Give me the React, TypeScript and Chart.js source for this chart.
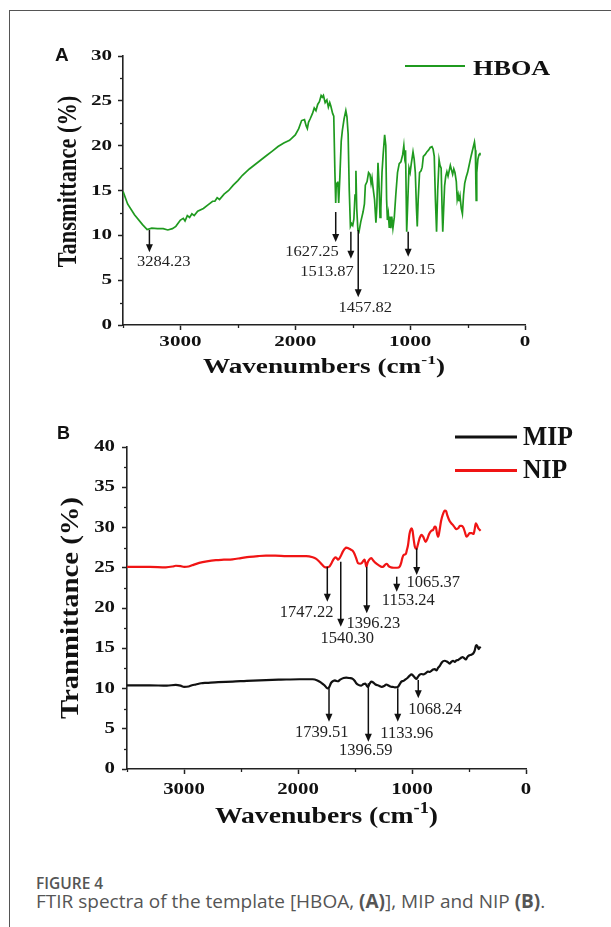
import React, { useEffect, useRef } from "react";
import { Chart, registerables } from "chart.js";
Chart.register(...registerables);

// ---------- Panel A : HBOA ----------
const HBOA_WN = [3500, 3460, 3400, 3330, 3290, 3250, 3200, 3150, 3110, 3070, 3040, 3000, 2975, 2960, 2940, 2920, 2900, 2880, 2850, 2800, 2760, 2720, 2700, 2680, 2660, 2620, 2580, 2540, 2500, 2460, 2400, 2350, 2300, 2250, 2200, 2150, 2100, 2050, 2000, 1970, 1945, 1920, 1905, 1895, 1885, 1870, 1850, 1835, 1820, 1805, 1790, 1775, 1765, 1755, 1740, 1725, 1712, 1700, 1690, 1675, 1665, 1655, 1648, 1643, 1637, 1630, 1622, 1612, 1600, 1590, 1575, 1560, 1550, 1540, 1530, 1520, 1510, 1500, 1490, 1480, 1472, 1465, 1455, 1445, 1430, 1410, 1398, 1390, 1375, 1362, 1350, 1340, 1332, 1322, 1310, 1298, 1290, 1280, 1272, 1262, 1255, 1245, 1235, 1222, 1212, 1205, 1198, 1190, 1182, 1176, 1168, 1160, 1150, 1138, 1125, 1110, 1095, 1080, 1065, 1055, 1048, 1040, 1030, 1020, 1010, 1000, 990, 975, 965, 955, 945, 938, 930, 918, 905, 895, 885, 870, 855, 840, 825, 810, 800, 790, 780, 770, 760, 748, 740, 730, 722, 716, 708, 700, 690, 680, 670, 660, 650, 640, 630, 620, 610, 598, 590, 582, 575, 566, 555, 545, 535, 525, 512, 500, 485, 470, 455, 440, 432, 428, 425, 420, 410, 400, 392];
const HBOA_T = [14.9, 13.5, 12.3, 11.2, 10.65, 10.8, 10.75, 10.75, 10.6, 10.75, 11.0, 11.7, 11.9, 11.6, 12.2, 12.0, 12.4, 12.2, 12.7, 13.0, 13.4, 13.8, 13.8, 14.2, 14.0, 14.6, 15.0, 15.6, 16.1, 16.7, 17.4, 17.9, 18.4, 18.9, 19.4, 19.9, 20.3, 20.6, 21.2, 21.9, 22.8, 22.9, 22.2, 21.9, 22.6, 23.0, 23.6, 24.2, 23.9, 24.6, 24.9, 25.6, 25.4, 25.6, 24.8, 25.1, 24.3, 24.8, 24.4, 23.6, 23.3, 17.0, 13.6, 15.9, 15.4, 16.0, 13.6, 16.5, 20.5, 21.7, 23.0, 23.9, 23.2, 21.3, 15.0, 11.0, 11.3, 11.1, 11.8, 14.5, 17.2, 13.0, 10.6, 10.4, 11.5, 12.6, 13.5, 15.6, 16.0, 17.0, 16.8, 15.8, 16.4, 15.2, 14.0, 11.4, 13.2, 18.1, 16.0, 12.0, 13.0, 17.0, 19.0, 21.2, 20.0, 14.0, 11.7, 12.4, 10.9, 12.1, 10.8, 12.1, 10.8, 12.0, 14.5, 17.0, 18.0, 18.2, 19.0, 20.0, 18.8, 19.5, 10.4, 14.0, 17.5, 17.0, 18.0, 19.3, 18.5, 17.0, 13.0, 11.0, 14.0, 17.0, 17.2, 17.6, 18.8, 19.0, 19.3, 19.5, 19.8, 19.9, 19.6, 18.8, 14.0, 10.4, 15.0, 18.4, 17.8, 17.5, 13.0, 10.4, 13.0, 15.5, 16.6, 17.1, 16.6, 17.2, 17.8, 17.3, 16.8, 17.4, 17.0, 16.0, 14.0, 14.5, 13.8, 14.4, 13.0, 12.4, 14.5, 15.8, 16.5, 17.0, 17.9, 18.8, 19.6, 20.4, 19.5, 16.0, 13.9, 17.0, 18.5, 19.0, 19.2];

const A_PEAK_LABELS = ["3284.23", "1627.25", "1513.87", "1457.82", "1220.15"];
const A_PEAK_WN = [3270, 1648, 1516, 1452, 1017];
const A_PEAK_TOP = [10.6, 12.6, 10.4, 10.6, 10.4];
const A_PEAK_BOTTOM = [8.1, 9.25, 7.4, 3.1, 7.6];
const A_LABEL_WN = [3145, 1855, 1724, 1391, 1015];
const A_LABEL_T = [7.06, 8.17, 5.94, 1.86, 6.13];

// ---------- Panel B : MIP / NIP ----------
const NIP_WN = [3500, 3300, 3160, 3100, 3072, 3030, 2999, 2960, 2930, 2867, 2800, 2720, 2650, 2574, 2500, 2427, 2350, 2281, 2200, 2100, 2000, 1929, 1871, 1840, 1812, 1790, 1768, 1745, 1724, 1705, 1690, 1671, 1655, 1647, 1635, 1620, 1607, 1590, 1577, 1555, 1530, 1515, 1504, 1490, 1475, 1455, 1440, 1425, 1416, 1408, 1401, 1390, 1375, 1357, 1340, 1320, 1290, 1265, 1250, 1235, 1220, 1205, 1185, 1160, 1130, 1108, 1095, 1085, 1073, 1055, 1045, 1035, 1022, 1005, 995, 985, 975, 961, 950, 935, 917, 900, 880, 865, 850, 830, 815, 800, 790, 780, 770, 760, 745, 730, 712, 700, 690, 670, 654, 640, 625, 610, 595, 580, 565, 550, 535, 522, 510, 495, 475, 460, 450, 440, 430, 418, 405, 398];
const NIP_T = [25.1, 25.1, 25.05, 25.15, 25.25, 25.2, 25.1, 25.15, 25.3, 25.6, 25.8, 25.95, 26.0, 26.05, 26.2, 26.35, 26.45, 26.5, 26.5, 26.45, 26.45, 26.45, 26.3, 26.1, 25.75, 25.4, 25.1, 25.05, 25.15, 25.6, 26.0, 26.3, 26.1, 26.0, 26.2, 26.6, 27.0, 27.35, 27.5, 27.4, 27.2, 27.0, 26.7, 26.2, 25.6, 25.5, 25.6, 25.9, 26.0, 25.6, 25.1, 25.6, 26.0, 26.2, 25.9, 25.6, 25.3, 25.1, 25.15, 25.4, 25.5, 25.2, 25.05, 25.0, 25.0, 25.15, 25.6, 26.2, 26.6, 26.7, 27.2, 27.8, 29.2, 29.9, 29.6, 28.5, 27.6, 27.3, 27.8, 28.6, 29.1, 28.8, 28.2, 28.6, 29.2, 29.6, 29.7, 30.1, 30.0, 29.2, 28.85, 29.5, 30.8, 31.6, 32.1, 32.0, 31.5, 30.8, 30.5, 30.3, 30.0, 29.8, 29.9, 30.2, 30.2, 30.0, 29.4, 28.85, 29.0, 29.3, 29.3, 29.2, 29.8, 30.5, 30.3, 29.9, 29.7, 29.6];

const MIP_WN = [3500, 3300, 3150, 3072, 3030, 2999, 2960, 2930, 2896, 2850, 2800, 2700, 2574, 2450, 2281, 2150, 1988, 1871, 1830, 1800, 1768, 1750, 1739, 1725, 1710, 1690, 1675, 1665, 1650, 1630, 1600, 1577, 1550, 1520, 1500, 1489, 1470, 1445, 1425, 1410, 1395, 1386, 1375, 1357, 1340, 1320, 1290, 1265, 1245, 1225, 1210, 1190, 1170, 1150, 1125, 1105, 1093, 1075, 1060, 1040, 1020, 1005, 990, 975, 961, 950, 935, 915, 900, 880, 860, 845, 830, 815, 800, 785, 770, 756, 740, 725, 712, 695, 680, 668, 655, 640, 625, 610, 595, 580, 565, 557, 545, 528, 515, 500, 480, 463, 450, 440, 434, 425, 415, 405, 398];
const MIP_T = [10.4, 10.4, 10.35, 10.45, 10.35, 10.2, 10.25, 10.4, 10.5, 10.65, 10.7, 10.8, 10.85, 10.95, 11.05, 11.1, 11.15, 11.15, 11.0, 10.75, 10.4, 10.1, 10.0, 10.2, 10.7, 10.95, 11.0, 10.95, 10.9, 11.1, 11.3, 11.35, 11.3, 11.2, 10.9, 10.65, 10.45, 10.35, 10.55, 10.6, 10.3, 10.2, 10.5, 10.85, 10.75, 10.5, 10.35, 10.2, 10.3, 10.5, 10.4, 10.25, 10.2, 10.15, 10.2, 10.6, 10.85, 10.95, 11.1, 11.3, 11.6, 11.75, 11.6, 11.35, 11.2, 11.4, 11.7, 11.8, 11.75, 11.9, 12.1, 12.05, 12.2, 12.35, 12.4, 12.25, 12.6, 12.8, 13.2, 13.4, 13.45, 13.35, 13.2, 13.1, 13.3, 13.45, 13.3, 13.5, 13.55, 13.7, 13.85, 13.9, 13.8, 13.6, 13.9, 14.1, 14.2, 14.35, 14.7, 15.3, 15.4, 15.2, 14.9, 15.1, 15.0];

const B_PEAK_LABELS = ["1747.22", "1540.30", "1396.23", "1153.24", "1065.37", "1739.51", "1396.59", "1133.96", "1068.24"];
const B_PEAK_WN = [1743, 1625, 1397, 1134, 959, 1728, 1383, 1125, 945];
const B_PEAK_TOP = [25.13, 25.75, 25.13, 23.89, 27.42, 10.02, 10.65, 10.02, 11.06];
const B_PEAK_BOTTOM = [20.78, 17.68, 19.34, 22.02, 24.1, 5.88, 3.39, 5.88, 8.78];
const B_LABEL_WN = [1924, 1568, 1339, 1032, 813, 1792, 1406, 1046, 798];
const B_LABEL_T = [19.42, 16.24, 18.1, 20.87, 23.14, 4.51, 2.24, 4.43, 7.33];

// ---------- Axes ----------
const X_TICKS = [3000, 2000, 1000, 0];
const X_MINOR = [3500, 2500, 1500, 500];
const Y_TICKS_A = [0, 5, 10, 15, 20, 25, 30];
const Y_MINOR_A = [2.5, 7.5, 12.5, 17.5, 22.5, 27.5];
const Y_TICKS_B = [0, 5, 10, 15, 20, 25, 30, 35, 40];
const Y_MINOR_B = [2.5, 7.5, 12.5, 17.5, 22.5, 27.5, 32.5, 37.5];

const SERIF = '"Liberation Serif", "Times New Roman", serif';
const SANS = '"Liberation Sans", Arial, sans-serif';

function stext(ctx: any, text: string, x: number, y: number, font: string, sx: number, align: string, color: string, rot = 0) {
  ctx.save();
  ctx.translate(x, y);
  if (rot) ctx.rotate(rot);
  ctx.scale(sx, 1);
  ctx.font = font;
  ctx.fillStyle = color;
  ctx.textAlign = align;
  ctx.textBaseline = "middle";
  ctx.fillText(text, 0, 0);
  ctx.restore();
}

function supTitle(ctx: any, main: string, sup: string, tail: string, cx: number, cy: number, size: number, sx: number) {
  ctx.save();
  const big = `bold ${size}px ${SERIF}`;
  const small = `bold ${Math.round(size * 0.65)}px ${SERIF}`;
  ctx.font = big;
  const w1 = ctx.measureText(main).width;
  const w3 = ctx.measureText(tail).width;
  ctx.font = small;
  const w2 = ctx.measureText(sup).width;
  const total = (w1 + w2 + w3) * sx;
  ctx.translate(cx - total / 2, cy);
  ctx.scale(sx, 1);
  ctx.fillStyle = "#111";
  ctx.textAlign = "left";
  ctx.textBaseline = "middle";
  ctx.font = big;
  ctx.fillText(main, 0, 0);
  ctx.font = small;
  ctx.fillText(sup, w1, -size * 0.36);
  ctx.font = big;
  ctx.fillText(tail, w1 + w2, 0);
  ctx.restore();
}

function arrow(ctx: any, x: number, y1: number, y2: number, head: number, hw: number) {
  ctx.save();
  ctx.strokeStyle = "#111";
  ctx.fillStyle = "#111";
  ctx.lineWidth = 1.5;
  ctx.beginPath();
  ctx.moveTo(x, y1);
  ctx.lineTo(x, y2 - head + 1);
  ctx.stroke();
  ctx.beginPath();
  ctx.moveTo(x - hw, y2 - head);
  ctx.lineTo(x + hw, y2 - head);
  ctx.lineTo(x, y2);
  ctx.closePath();
  ctx.fill();
  ctx.restore();
}

function makeDecor(cfg: any) {
  return {
    id: "decor",
    afterDraw(chart: any) {
      const { ctx, chartArea } = chart;
      const xs = chart.scales.x;
      const ys = chart.scales.y;
      ctx.save();
      ctx.strokeStyle = "#222";
      ctx.lineWidth = 1.3;
      cfg.xMinor.forEach((v: number) => {
        const px = Math.round(xs.getPixelForValue(v)) + 0.5;
        ctx.beginPath();
        ctx.moveTo(px, chartArea.bottom);
        ctx.lineTo(px, chartArea.bottom + 3);
        ctx.stroke();
      });
      cfg.yMinor.forEach((v: number) => {
        const py = Math.round(ys.getPixelForValue(v)) + 0.5;
        ctx.beginPath();
        ctx.moveTo(chartArea.left, py);
        ctx.lineTo(chartArea.left - 3, py);
        ctx.stroke();
      });
      ctx.restore();
      const tf = `bold ${cfg.tickSize}px ${SERIF}`;
      cfg.xTicks.forEach((v: number) => {
        stext(ctx, String(v), xs.getPixelForValue(v), chartArea.bottom + cfg.xTickDy, tf, cfg.tickSx, "center", "#111");
      });
      cfg.yTicks.forEach((v: number) => {
        stext(ctx, String(v), chartArea.left - cfg.yTickDx, ys.getPixelForValue(v), tf, cfg.tickSx, "right", "#111");
      });
      stext(ctx, cfg.yTitle, cfg.yTitleX, (chartArea.top + chartArea.bottom) / 2 + cfg.yTitleDy, `bold ${cfg.yTitleSize}px ${SERIF}`, cfg.yTitleSx, "center", "#111", -Math.PI / 2);
      supTitle(ctx, cfg.xTitle, "-1", ")", (chartArea.left + chartArea.right) / 2, cfg.xTitleY, cfg.xTitleSize, cfg.xTitleSx);
      stext(ctx, cfg.letter, cfg.letterX, cfg.letterY, `bold ${cfg.letterSize}px ${SANS}`, 1, "left", "#111");
      chart.data.datasets.forEach((ds: any, i: number) => {
        const ly = cfg.legendY + i * cfg.legendGap;
        ctx.save();
        ctx.strokeStyle = ds.borderColor;
        ctx.lineWidth = cfg.legendLineW;
        ctx.beginPath();
        ctx.moveTo(cfg.legendX0, ly);
        ctx.lineTo(cfg.legendX1, ly);
        ctx.stroke();
        ctx.restore();
        stext(ctx, ds.label, cfg.legendTextX, ly + cfg.legendTextDy, `bold ${cfg.legendSize}px ${SERIF}`, cfg.legendSx, "left", "#111");
      });
      cfg.peakLabels.forEach((lab: string, i: number) => {
        const px = xs.getPixelForValue(cfg.peakWn[i]);
        arrow(ctx, px, ys.getPixelForValue(cfg.peakTop[i]), ys.getPixelForValue(cfg.peakBottom[i]), 8, 3.5);
        stext(ctx, lab, xs.getPixelForValue(cfg.labelWn[i]), ys.getPixelForValue(cfg.labelT[i]), `${cfg.peakSize}px ${SERIF}`, cfg.peakSx, "center", "#222");
      });
    },
  };
}

function axisOpts(min: number, max: number, ticks: number[], reverse: boolean, horizontal: boolean, size: number) {
  return {
    type: "linear",
    min,
    max,
    reverse,
    afterBuildTicks: (s: any) => {
      s.ticks = ticks.map((v) => ({ value: v }));
    },
    afterFit: (s: any) => {
      if (horizontal) s.height = size;
      else s.width = size;
    },
    ticks: { display: false },
    grid: { drawOnChartArea: false, drawTicks: true, tickLength: 5, tickWidth: 1.5, tickColor: "#222" },
    border: { display: true, color: "#222", width: 1.6 },
  };
}

function SpectrumChart(props: any) {
  const ref = useRef<HTMLCanvasElement>(null);
  useEffect(() => {
    const chart = new Chart(ref.current as any, {
      type: "scatter",
      data: { datasets: props.datasets },
      options: {
        animation: false,
        responsive: false,
        maintainAspectRatio: false,
        events: [],
        layout: { padding: props.padding },
        plugins: { legend: { display: false }, tooltip: { enabled: false } },
        scales: {
          x: axisOpts(0, 3500, X_TICKS, true, true, 5),
          y: axisOpts(0, props.yMax, props.yTicks, false, false, props.yAxisW),
        },
      } as any,
      plugins: [makeDecor(props.decor)],
    });
    return () => chart.destroy();
  }, []);
  return (
    <canvas
      ref={ref}
      width={props.w}
      height={props.h}
      style={{ position: "absolute", left: 0, top: props.top, width: props.w, height: props.h }}
    />
  );
}

const pts = (xs: number[], ys: number[]) => xs.map((x, i) => ({ x, y: ys[i] }));

export default function App() {
  const dsA = [
    { label: "HBOA", data: pts(HBOA_WN, HBOA_T), borderColor: "#1f9a1f", borderWidth: 1.7, showLine: true, pointRadius: 0, tension: 0 },
  ];
  const dsB = [
    { label: "MIP", data: pts(MIP_WN, MIP_T), borderColor: "#111111", borderWidth: 2.2, showLine: true, pointRadius: 0, tension: 0.4, cubicInterpolationMode: "monotone" },
    { label: "NIP", data: pts(NIP_WN, NIP_T), borderColor: "#f01414", borderWidth: 2.2, showLine: true, pointRadius: 0, tension: 0.4, cubicInterpolationMode: "monotone" },
  ];
  const decorA = {
    xTicks: X_TICKS, xMinor: X_MINOR, yTicks: Y_TICKS_A, yMinor: Y_MINOR_A,
    tickSize: 15.5, tickSx: 1.36, xTickDy: 17, yTickDx: 11,
    yTitle: "Tansmittance (%)", yTitleX: 69, yTitleDy: -9, yTitleSize: 27, yTitleSx: 0.83,
    xTitle: "Wavenumbers (cm", xTitleY: 368, xTitleSize: 20, xTitleSx: 1.36,
    letter: "A", letterX: 55, letterY: 56, letterSize: 19,
    legendY: 66, legendGap: 34, legendX0: 405, legendX1: 465, legendLineW: 2, legendTextX: 473, legendTextDy: 3, legendSize: 21.5, legendSx: 1.22,
    peakLabels: A_PEAK_LABELS, peakWn: A_PEAK_WN, peakTop: A_PEAK_TOP, peakBottom: A_PEAK_BOTTOM, labelWn: A_LABEL_WN, labelT: A_LABEL_T,
    peakSize: 15, peakSx: 1.1,
  };
  const decorB = {
    xTicks: X_TICKS, xMinor: X_MINOR, yTicks: Y_TICKS_B, yMinor: Y_MINOR_B,
    tickSize: 16, tickSx: 1.3, xTickDy: 21, yTickDx: 12,
    yTitle: "Tranmittance (%)", yTitleX: 72, yTitleDy: 0, yTitleSize: 25, yTitleSx: 1.15,
    xTitle: "Wavenubers (cm", xTitleY: 417, xTitleSize: 24, xTitleSx: 1.15,
    letter: "B", letterX: 57, letterY: 34, letterSize: 18,
    legendY: 37, legendGap: 33.5, legendX0: 455, legendX1: 517, legendLineW: 3, legendTextX: 523, legendTextDy: 1, legendSize: 27, legendSx: 0.95,
    peakLabels: B_PEAK_LABELS, peakWn: B_PEAK_WN, peakTop: B_PEAK_TOP, peakBottom: B_PEAK_BOTTOM, labelWn: B_LABEL_WN, labelT: B_LABEL_T,
    peakSize: 17, peakSx: 0.97,
  };
  return (
    <div style={{ position: "absolute", left: 0, top: 0, width: 611, height: 927, background: "#fff", overflow: "hidden" }}>
      <div style={{ position: "absolute", left: 9, top: 10, width: 1.3, height: 917, background: "#555" }} />
      <div style={{ position: "absolute", left: 9, top: 10, width: 602, height: 1.3, background: "#555" }} />
      <SpectrumChart w={611} h={395} top={0} datasets={dsA} yMax={30} yTicks={Y_TICKS_A} yAxisW={123}
        padding={{ left: 0, top: 56, right: 86, bottom: 65 }} decor={decorA} />
      <SpectrumChart w={611} h={440} top={400} datasets={dsB} yMax={40} yTicks={Y_TICKS_B} yAxisW={127}
        padding={{ left: 0, top: 47, right: 85, bottom: 66 }} decor={decorB} />
      <div style={{ position: "absolute", left: 36, top: 872, font: "600 15.5px 'Open Sans', sans-serif", color: "#555", whiteSpace: "nowrap" }}>FIGURE 4</div>
      <div style={{ position: "absolute", left: 36, top: 888, font: "400 19px 'Open Sans', sans-serif", color: "#555", whiteSpace: "nowrap" }}>
        FTIR spectra of the template [HBOA, <b>(A)</b>], MIP and NIP <b>(B)</b>.
      </div>
    </div>
  );
}
